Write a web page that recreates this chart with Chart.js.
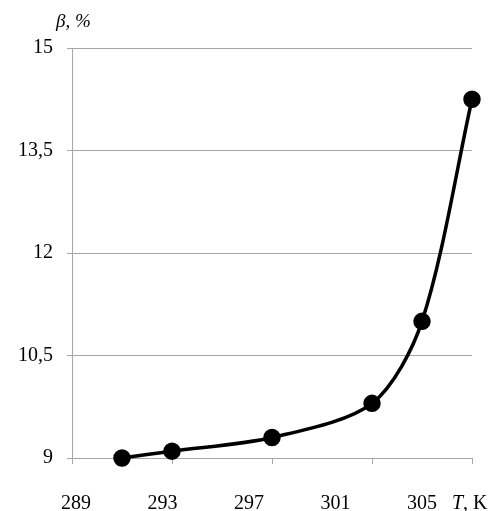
<!DOCTYPE html>
<html>
<head>
<meta charset="utf-8">
<script src="https://cdn.jsdelivr.net/npm/chart.js@4.4.0/dist/chart.umd.min.js"></script>
<style>
  html, body { margin: 0; padding: 0; background: #ffffff; }
  #wrap { width: 500px; height: 511px; position: relative; }
</style>
</head>
<body>
<div id="wrap"><canvas id="c" width="500" height="511"></canvas></div>
<script>
// ---- data ----
const temperatureK = [291, 293, 297, 301, 303, 305];
const betaPercent  = [9.0, 9.1, 9.3, 9.8, 11.0, 14.25];
const xTickValues  = [289, 293, 297, 301, 305];
const yTickValues  = [9, 10.5, 12, 13.5, 15];
const yAxisLabel   = 'β, %';
const xAxisLabelItalic = 'T';
const xAxisLabelRest   = ', K';

const SERIF = '"Liberation Serif", "Times New Roman", serif';
const GRID = '#a6a6a6';

const axisTitles = {
  id: 'axisTitles',
  afterDraw(chart) {
    const ctx = chart.ctx;
    ctx.save();
    ctx.fillStyle = '#000';
    ctx.textBaseline = 'middle';
    ctx.textAlign = 'left';
    ctx.font = 'italic 19px ' + SERIF;
    ctx.fillText(yAxisLabel, 56, 22);
    // x axis title
    const x2 = chart.scales.x2;
    const y = x2.top + 40;
    let x = 452;
    ctx.font = 'italic 20px ' + SERIF;
    ctx.fillText(xAxisLabelItalic, x, y);
    x += ctx.measureText(xAxisLabelItalic).width;
    ctx.font = '20px ' + SERIF;
    ctx.fillText(xAxisLabelRest, x, y);
    ctx.restore();
  }
};

new Chart(document.getElementById('c'), {
  type: 'line',
  data: {
    datasets: [{
      data: temperatureK.map((t, i) => ({ x: t, y: betaPercent[i] })),
      borderColor: '#000',
      backgroundColor: '#000',
      borderWidth: 3.5,
      pointRadius: 7,
      pointHoverRadius: 7,
      pointBackgroundColor: '#000',
      pointBorderColor: '#000',
      tension: 0.3,
      fill: false,
      clip: false
    }]
  },
  options: {
    responsive: false,
    animation: false,
    events: [],
    layout: { padding: { top: 48, right: 28, left: 0, bottom: 0 } },
    plugins: { legend: { display: false }, tooltip: { enabled: false } },
    scales: {
      x: {
        type: 'linear',
        position: 'bottom',
        min: 289, max: 305,
        afterBuildTicks: (s) => { s.ticks = xTickValues.map(v => ({ value: v })); },
        afterFit: (s) => { s.height = 6; },
        ticks: { display: false },
        grid: { drawOnChartArea: false, drawTicks: true, tickLength: 6, color: GRID, lineWidth: 1 },
        border: { color: GRID, width: 1 }
      },
      x2: {
        type: 'linear',
        position: 'bottom',
        min: 288.815, max: 307.31,
        afterBuildTicks: (s) => { s.ticks = xTickValues.map(v => ({ value: v })); },
        afterFit: (s) => { s.height = 47; },
        ticks: {
          color: '#000',
          font: { family: SERIF, size: 20 },
          padding: 28,
          maxRotation: 0,
          autoSkip: false,
          callback: (v) => String(v)
        },
        grid: { display: false, drawTicks: false },
        border: { display: false }
      },
      y: {
        type: 'linear',
        min: 9, max: 15,
        afterBuildTicks: (s) => { s.ticks = yTickValues.map(v => ({ value: v })); },
        afterFit: (s) => { s.width = 72; },
        ticks: {
          color: '#000',
          font: { family: SERIF, size: 20 },
          padding: 14,
          callback: (v) => String(v).replace('.', ',')
        },
        grid: { color: GRID, lineWidth: 1, drawTicks: true, tickLength: 5 },
        border: { color: GRID, width: 1 }
      }
    }
  },
  plugins: [axisTitles]
});
</script>
</body>
</html>
